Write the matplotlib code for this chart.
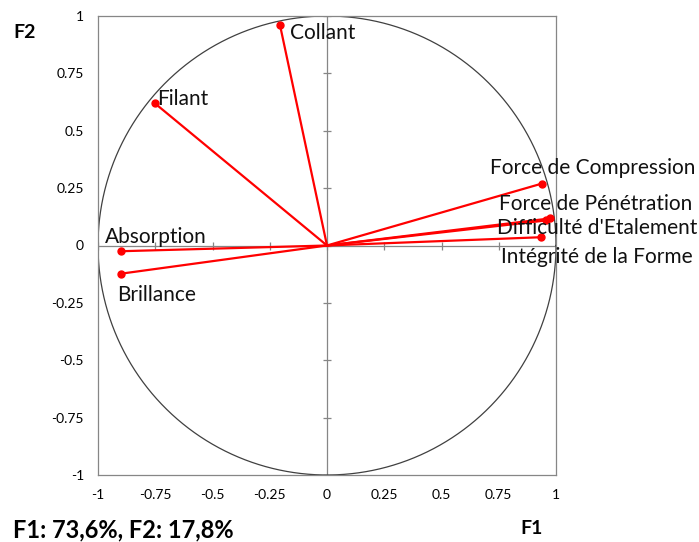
import numpy as np
import matplotlib
matplotlib.use('Agg')
import matplotlib.pyplot as plt

# variable coordinates on F1/F2
variables = ['Collant', 'Filant', 'Force de Compression', 'Force de Pénétration',
             'Difficulté d\'Etalement', 'Intégrité de la Forme', 'Absorption', 'Brillance']
f1 = [-0.205, -0.751, 0.939, 0.974, 0.956, 0.933, -0.901, -0.901]
f2 = [0.959, 0.619, 0.270, 0.118, 0.109, 0.036, -0.025, -0.123]
ticks = [-1, -0.75, -0.5, -0.25, 0, 0.25, 0.5, 0.75, 1]
tick_labels = ['-1', '-0.75', '-0.5', '-0.25', '0', '0.25', '0.5', '0.75', '1']

# label offsets in pixels (left edge, vertical centre) relative to each point
offsets = {
    'Collant': (10, -8),
    'Filant': (2, 4),
    'Force de Compression': (-52, 16),
    'Force de Pénétration': (-51, 14),
    'Difficulté d\'Etalement': (-49, -8),
    'Intégrité de la Forme': (-40, -20),
    'Absorption': (-16, 14),
    'Brillance': (-4, -21),
}

plt.rcParams['font.family'] = ['Lato', 'DejaVu Sans']
fig = plt.figure(figsize=(6.99, 5.42), dpi=100)
ax = fig.add_axes([98/699, 67/542, 458/699, 459/542])

GREY = '#868686'
theta = np.linspace(0, 2*np.pi, 400)
ax.plot(np.cos(theta), np.sin(theta), color='#404040', lw=0.9, zorder=2)
ax.axhline(0, color=GREY, lw=0.9, zorder=1)
ax.axvline(0, color=GREY, lw=0.9, zorder=1)
tk = np.array(ticks)
ax.scatter(np.zeros_like(tk), tk, marker='_', s=40, color=GREY, lw=0.9, zorder=1)
ax.scatter(tk, np.zeros_like(tk), marker='|', s=40, color=GREY, lw=0.9, zorder=1)

for name, x, y in zip(variables, f1, f2):
    ax.plot([0, x], [0, y], color='red', lw=1.6, zorder=3)
    ax.plot(x, y, 'o', color='red', ms=5, zorder=4)
    dx, dy = offsets[name]
    ax.annotate(name, (x, y), xytext=(dx * 0.72, dy * 0.72), textcoords='offset points',
                ha='left', va='center', fontsize=15, color='#111111', zorder=5,
                annotation_clip=False)

ax.set_xlim(-1, 1)
ax.set_ylim(-1, 1)
ax.set_xticks(ticks)
ax.set_xticklabels(tick_labels)
ax.set_yticks(ticks)
ax.set_yticklabels(tick_labels)
ax.tick_params(length=0, labelsize=10, pad=10)
for s in ax.spines.values():
    s.set_color(GREY)
    s.set_linewidth(0.9)

fig.text(25/699, 1 - 32/542, 'F2', fontsize=14, fontweight='bold', ha='center', va='center')
fig.text(532/699, 1 - 529/542, 'F1', fontsize=14, fontweight='bold', ha='center', va='center')
fig.text(13/699, 1 - 530/542, 'F1: 73,6%, F2: 17,8%', fontsize=17, fontweight='bold',
         ha='left', va='center')

plt.savefig('out.png', dpi=100)
